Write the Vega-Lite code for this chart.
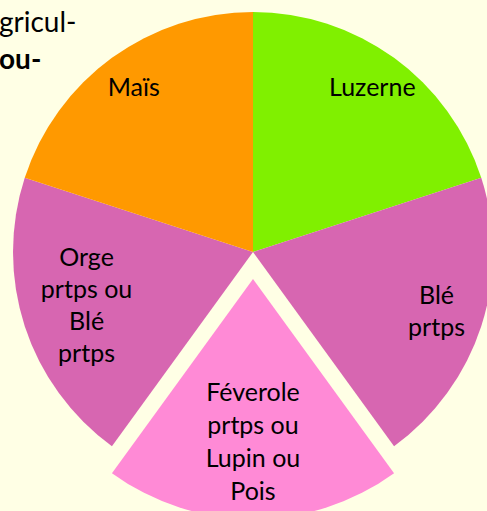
{
  "$schema": "https://vega.github.io/schema/vega-lite/v6.json",
  "autosize": "none",
  "width": 468,
  "height": 344,
  "padding": {"left": 19, "top": 80, "right": 0, "bottom": 87},
  "background": "#FFFFE5",
  "title": {
    "text": "gricul-",
    "subtitle": "ou-",
    "anchor": "start",
    "frame": "group",
    "font": "Lato",
    "fontSize": 28,
    "fontWeight": "normal",
    "color": "#000000",
    "subtitleFont": "Lato",
    "subtitleFontSize": 28,
    "subtitleFontWeight": "bold",
    "subtitleColor": "#000000",
    "subtitlePadding": 9,
    "offset": 0,
    "dx": -20,
    "dy": 63
  },
  "config": {"view": {"stroke": null}},
  "data": {
    "values": [
      {"crop": "Luzerne", "label": "Luzerne", "k": 1, "v": 1},
      {"crop": "Blé", "label": "Blé\nprtps", "k": 2, "v": 1},
      {"crop": "Féverole", "label": "Féverole\nprtps ou\nLupin ou\nPois", "k": 3, "v": 1},
      {"crop": "Orge", "label": "Orge\nprtps ou\nBlé\nprtps", "k": 4, "v": 1},
      {"crop": "Maïs", "label": "Maïs", "k": 5, "v": 1}
    ]
  },
  "encoding": {
    "theta": {"field": "v", "type": "quantitative", "stack": true},
    "order": {"field": "k", "type": "quantitative"}
  },
  "layer": [
    {
      "mark": {"type": "arc", "outerRadius": 240},
      "encoding": {
        "fill": {
          "field": "crop",
          "type": "nominal",
          "legend": null,
          "scale": {
            "domain": ["Luzerne", "Blé", "Féverole", "Orge", "Maïs"],
            "range": ["#80F000", "#D766B1", "#FF8AD6", "#D766B1", "#FF9900"]
          }
        },
        "opacity": {"condition": {"test": "datum.crop === 'Féverole'", "value": 0}, "value": 1}
      }
    },
    {
      "mark": {"type": "arc", "outerRadius": 240, "yOffset": 27},
      "encoding": {
        "fill": {"field": "crop", "type": "nominal", "legend": null},
        "opacity": {"condition": {"test": "datum.crop === 'Féverole'", "value": 1}, "value": 0}
      }
    },
    {
      "mark": {"type": "text", "radius": 203, "font": "Lato", "fontSize": 25, "lineHeight": 32, "lineBreak": "\n", "color": "#000000", "baseline": "middle", "align": "center"},
      "encoding": {
        "text": {"condition": {"test": "datum.crop === 'Luzerne' || datum.crop === 'Maïs'", "field": "label"}, "value": ""}
      }
    },
    {
      "mark": {"type": "text", "radius": 193, "dy": -16, "font": "Lato", "fontSize": 25, "lineHeight": 32, "lineBreak": "\n", "color": "#000000", "baseline": "middle", "align": "center"},
      "encoding": {
        "text": {"condition": {"test": "datum.crop === 'Blé'", "field": "label"}, "value": ""}
      }
    },
    {
      "mark": {"type": "text", "radius": 175, "dy": -48, "font": "Lato", "fontSize": 25, "lineHeight": 32, "lineBreak": "\n", "color": "#000000", "baseline": "middle", "align": "center"},
      "encoding": {
        "text": {"condition": {"test": "datum.crop === 'Orge'", "field": "label"}, "value": ""}
      }
    },
    {
      "mark": {"type": "text", "radius": 163, "yOffset": 27, "dy": -49, "font": "Lato", "fontSize": 25, "lineHeight": 33, "lineBreak": "\n", "color": "#000000", "baseline": "middle", "align": "center"},
      "encoding": {
        "text": {"condition": {"test": "datum.crop === 'Féverole'", "field": "label"}, "value": ""}
      }
    }
  ]
}
